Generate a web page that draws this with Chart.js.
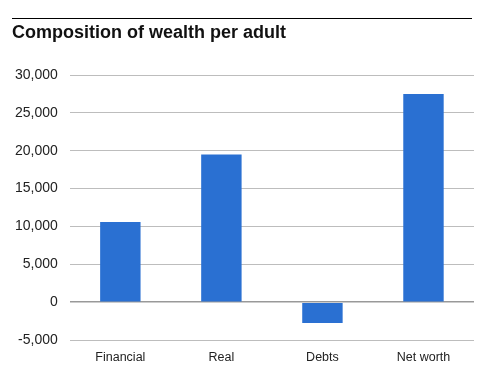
<!DOCTYPE html>
<html>
<head>
<meta charset="utf-8">
<script src="https://cdn.jsdelivr.net/npm/chart.js@4"></script>
<style>
  html, body { margin: 0; padding: 0; background: #fff; }
  #wrap { position: relative; width: 495px; height: 380px; }
  #rule { position: absolute; left: 12px; top: 18px; width: 460px; border-top: 1px solid #000; }
  #title {
    position: absolute; left: 12px; top: 22px;
    font: bold 18px "Liberation Sans", Arial, sans-serif; color: #111;
  }
  canvas { position: absolute; left: 0; top: 0; }
</style>
</head>
<body>
<div id="wrap">
  <canvas id="chart" width="495" height="380"></canvas>
  <div id="rule"></div>
  <div id="title">Composition of wealth per adult</div>
</div>
<script>
// ── Data ─────────────────────────────────────────────────
const categories = ['Financial', 'Real', 'Debts', 'Net worth'];
const wealth     = [10600, 19500, -2750, 27500];
const yMin = -5000, yMax = 30000, yStep = 5000;

const fmt = v => v.toLocaleString('en-US');

new Chart(document.getElementById('chart').getContext('2d'), {
    type: 'bar',
    data: {
        labels: categories,
        datasets: [{
            data: wealth,
            backgroundColor: '#2A70D2',
            borderWidth: 0,
            barPercentage: 0.4,
            categoryPercentage: 1,
        }],
    },
    options: {
        responsive: false,
        animation: false,
        layout: { padding: { top: 75, right: 21, bottom: 5, left: 3 } },
        plugins: { legend: { display: false }, tooltip: { enabled: false } },
        scales: {
            x: {
                grid: { display: false, drawTicks: false },
                border: { display: false },
                ticks: { color: '#222', padding: 10, font: { family: 'Liberation Sans', size: 12.5 } },
            },
            y: {
                min: yMin, max: yMax,
                grid: {
                    color: ctx => ctx.tick && ctx.tick.value === 0 ? '#999' : '#bdbdbd',
                    lineWidth: ctx => ctx.tick && ctx.tick.value === 0 ? 1.5 : 1,
                    drawTicks: false,
                },
                border: { display: false },
                ticks: {
                    stepSize: yStep,
                    color: '#222',
                    padding: 12,
                    font: { family: 'Liberation Sans', size: 14 },
                    callback: v => fmt(v),
                },
            },
        },
    },
});
</script>
</body>
</html>
